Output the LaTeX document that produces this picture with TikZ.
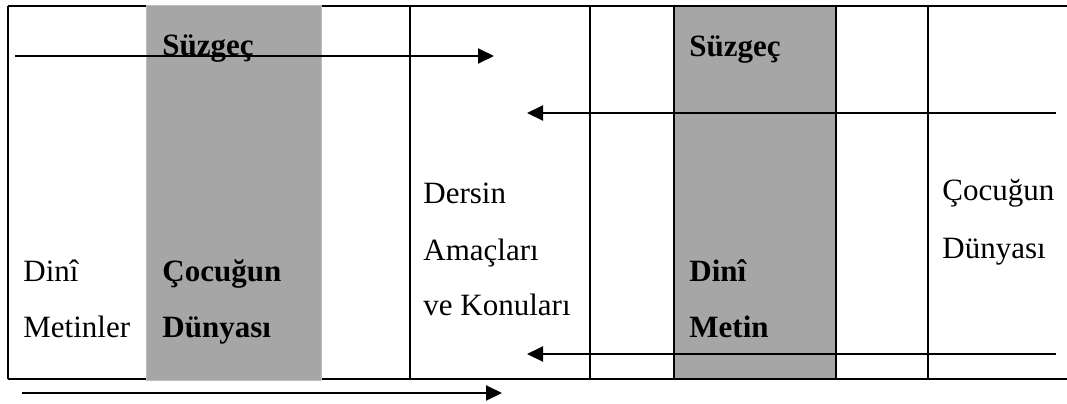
\documentclass[tikz,border=0pt]{standalone}
\usepackage{fontspec}
\setmainfont{Liberation Serif}
\usetikzlibrary{arrows.meta}
\definecolor{shade}{HTML}{A6A6A6}
\definecolor{shadeedge}{HTML}{BEBEBE}
\tikzset{
  rule/.style={line width=1pt},
  flow/.style={line width=1pt,-{Triangle[length=8pt,width=7.5pt]}},
  lbl/.style={anchor=base west,inner sep=0pt,font=\fontsize{15.5}{18}\selectfont},
  blbl/.style={lbl,font=\fontsize{15.5}{18}\selectfont\bfseries}
}
\begin{document}
\begin{tikzpicture}[x=0.5pt,y=-0.5pt]
  \useasboundingbox (0,0) rectangle (1067,403);
  % table rules
  \draw[rule] (8,6) -- (1067,6);
  \draw[rule] (8,379) -- (1067,379);
  \foreach \x in {8,410,590,928}
    \draw[rule] (\x,6) -- (\x,379);
  % filter columns
  \filldraw[fill=shade,draw=shadeedge] (146,5) rectangle (321,380);
  \filldraw[fill=shade,rule] (674,6) rectangle (836,379);
  % labels
  \node[blbl] (filtA) at (162,55) {Süzgeç};
  \node[blbl] (filtB) at (689,56) {Süzgeç};
  \node[lbl] (textA1) at (23,281) {Dinî};
  \node[lbl] (textA2) at (23,337) {Metinler};
  \node[blbl] (childA1) at (162,281) {Çocuğun};
  \node[blbl] (childA2) at (162,337) {Dünyası};
  \node[lbl] (aims1) at (423,203) {Dersin};
  \node[lbl] (aims2) at (423,260) {Amaçları};
  \node[lbl] (aims3) at (423,315) {ve Konuları};
  \node[blbl] (textB1) at (689,281) {Dinî};
  \node[blbl] (textB2) at (689,337) {Metin};
  \node[lbl] (childB1) at (942,200) {Çocuğun};
  \node[lbl] (childB2) at (942,258) {Dünyası};
  % flows
  \coordinate (inA) at (15,56);
  \coordinate (outA) at (494,56);
  \coordinate (inB) at (1056,113);
  \coordinate (outB) at (527,113);
  \coordinate (inC) at (1056,354);
  \coordinate (outC) at (527,354);
  \coordinate (inD) at (22,393);
  \coordinate (outD) at (502,393);
  \draw[flow] (inA) -- (outA);
  \draw[flow] (inB) -- (outB);
  \draw[flow] (inC) -- (outC);
  \draw[flow] (inD) -- (outD);
\end{tikzpicture}
\end{document}
